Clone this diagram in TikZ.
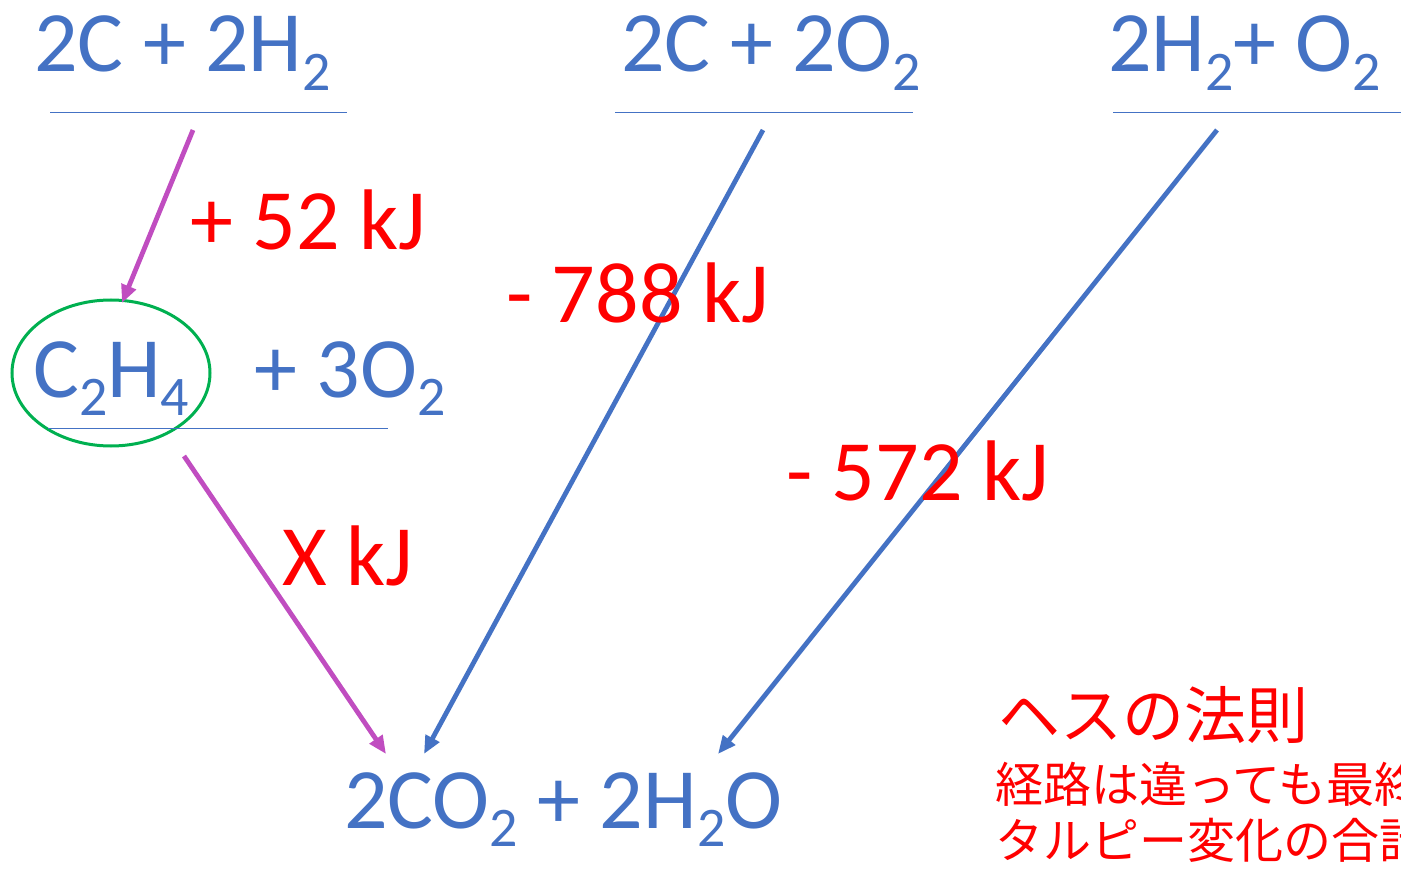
\documentclass[tikz,border=0pt]{standalone}
\usepackage{fontspec}
\setmainfont{Carlito}
\newfontfamily\jpfont{Noto Sans CJK JP}
\usetikzlibrary{arrows.meta, shapes.geometric}
\definecolor{chemblue}{HTML}{4472C4}
\definecolor{hessred}{HTML}{FF0000}
\definecolor{pathpurple}{HTML}{C04DC0}
\definecolor{ringgreen}{HTML}{00B050}
\newcommand{\chemsub}[1]{\raisebox{-0.21em}{\scalebox{0.65}{#1}}}

\begin{document}
\begin{tikzpicture}[x=1pt, y=-1pt,
  chem/.style={text=chemblue, font=\fontsize{86}{90}\selectfont, inner sep=0pt, anchor=base west},
  heat/.style={text=hessred, font=\fontsize{86}{90}\selectfont, inner sep=0pt, anchor=base west},
  note/.style={text=hessred, inner sep=0pt, anchor=base west},
  level/.style={draw=chemblue, line width=1pt},
  ring/.style={ellipse, draw=ringgreen, line width=3pt, minimum width=198pt, minimum height=146pt, inner sep=0pt},
  arr/.style={-{Triangle[length=18pt, width=15pt]}, line width=4.8pt}
]
  \useasboundingbox (0,0) rectangle (1401,869);
  \clip (0,0) rectangle (1401,869);

  % levels
  \node[chem] (cha) at (34,72)   {2C + 2H\chemsub{2}};
  \node[chem] (cox) at (621,72)  {2C + 2O\chemsub{2}};
  \node[chem] (hox) at (1108,72) {2H\chemsub{2}+ O\chemsub{2}};
  \node[chem] (eth) at (33,397)  {C\chemsub{2}H\chemsub{4}};
  \node[chem] (oxy) at (254,397) {+ 3O\chemsub{2}};
  \node[chem] (prd) at (344,828) {2CO\chemsub{2} + 2H\chemsub{2}O};
  \node[ring] (ring) at (111,373) {};

  \draw[level] (50,113) -- (347,113);
  \draw[level] (615,113) -- (913,113);
  \draw[level] (1113,113) -- (1401,113);
  \draw[level] (48,428) -- (388,428);

  % arrow ends
  \coordinate (chaS) at (193,130);
  \coordinate (ethE) at (122,303);
  \coordinate (ethS) at (184,456);
  \coordinate (prdA) at (386,754);
  \coordinate (coxS) at (763,130);
  \coordinate (prdB) at (424,754);
  \coordinate (hoxS) at (1217,130);
  \coordinate (prdC) at (718,754);

  \draw[arr, pathpurple] (chaS) -- (ethE);
  \draw[arr, pathpurple] (ethS) -- (prdA);
  \draw[arr, chemblue] (coxS) -- (prdB);
  \draw[arr, chemblue] (hoxS) -- (prdC);

  % enthalpies
  \node[heat] (dha) at (190,250) {+ 52 kJ};
  \node[heat] (dhb) at (506,323) {- 788 kJ};
  \node[heat] (dhc) at (786,500) {- 572 kJ};
  \node[heat] (dhx) at (282,585) {X kJ};

  % Hess
  \node[note, font=\jpfont\fontsize{62}{70}\selectfont] (hess) at (998,738) {ヘスの法則};
  \node[note, font=\jpfont\fontsize{48}{56}\selectfont] (rule1) at (995,802) {経路は違っても最終};
  \node[note, font=\jpfont\fontsize{48}{56}\selectfont] (rule2) at (995,858) {タルピー変化の合計};
\end{tikzpicture}
\end{document}
